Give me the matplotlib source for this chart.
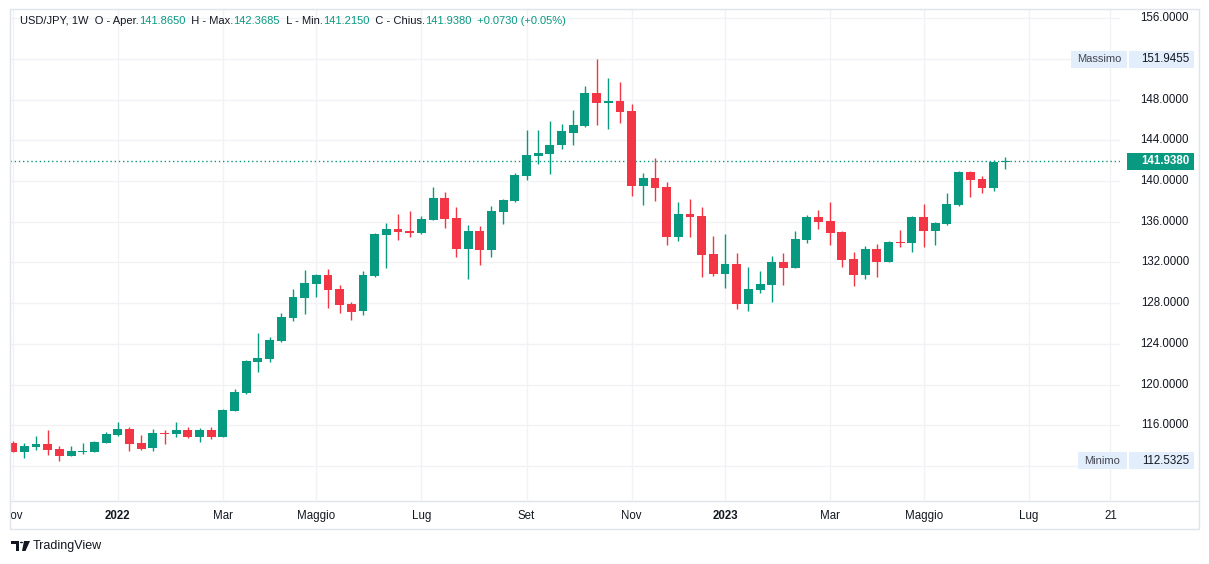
import matplotlib
matplotlib.use("Agg")
import matplotlib.pyplot as plt
from matplotlib.patches import Rectangle, Circle, Polygon
from matplotlib.lines import Line2D
from matplotlib.transforms import blended_transform_factory

# weekly USD/JPY candles, Nov 2021 -> Jun 2023
opens = [114.24, 113.42, 113.91, 114.18, 113.69, 113.00, 113.42, 113.42, 114.30, 115.05,
         115.64, 114.27, 113.72, 115.25, 115.15, 115.54, 114.86, 115.54, 114.86, 117.43,
         119.17, 122.24, 122.55, 124.31, 126.57, 128.54, 129.91, 130.76, 129.39, 127.91,
         127.26, 130.70, 134.73, 135.28, 135.08, 134.89, 136.20, 138.33, 136.36, 133.35,
         135.08, 133.25, 136.99, 138.06, 140.52, 142.48, 142.68, 143.52, 144.75, 145.43,
         148.66, 147.62, 147.88, 146.88, 139.55, 140.33, 139.45, 134.45, 136.76, 136.56,
         132.84, 130.89, 131.83, 127.94, 129.32, 129.81, 132.04, 131.49, 134.20, 136.46,
         136.07, 134.99, 132.33, 130.79, 133.31, 132.07, 134.03, 133.94, 136.46, 135.12,
         135.81, 137.67, 140.89, 140.20, 139.35, 141.865]
highs = [114.47, 114.27, 114.96, 115.54, 113.98, 113.98, 114.27, 114.47, 115.35, 116.32,
         115.83, 115.05, 115.64, 115.54, 116.33, 115.83, 115.74, 115.83, 117.60, 119.53,
         122.41, 125.09, 124.65, 127.04, 129.39, 131.25, 130.86, 131.35, 129.82, 128.14,
         131.15, 134.92, 135.84, 136.75, 137.08, 136.53, 139.41, 138.92, 137.45, 135.68,
         135.58, 137.55, 138.23, 140.78, 145.00, 145.00, 145.93, 145.60, 146.97, 149.36,
         151.9455, 150.13, 149.73, 147.58, 140.82, 142.29, 139.94, 137.95, 138.23, 137.45,
         134.60, 134.79, 132.93, 131.54, 131.15, 132.63, 132.93, 135.10, 136.66, 137.15,
         137.95, 135.10, 133.02, 133.60, 133.81, 134.10, 135.18, 136.56, 137.74, 135.97,
         138.82, 140.95, 140.98, 140.49, 142.05, 142.3685]
lows = [113.33, 112.74, 113.62, 113.10, 112.5325, 112.94, 113.13, 113.33, 114.30, 114.96,
        113.49, 113.59, 113.49, 114.18, 114.86, 114.76, 114.37, 114.69, 114.80, 117.40,
        119.07, 121.27, 122.24, 124.20, 126.27, 126.96, 128.64, 127.55, 127.07, 126.37,
        126.86, 130.54, 131.49, 134.23, 134.53, 134.82, 136.14, 135.42, 132.56, 130.40,
        131.78, 132.56, 135.81, 137.90, 140.13, 141.70, 140.67, 143.17, 143.57, 145.33,
        145.53, 145.14, 145.72, 138.57, 137.67, 138.07, 133.66, 134.15, 134.53, 130.60,
        130.70, 129.51, 127.47, 127.26, 129.03, 128.14, 129.81, 131.40, 133.94, 135.29,
        133.66, 131.58, 129.71, 130.40, 130.60, 132.00, 133.54, 133.06, 133.54, 133.75,
        135.71, 137.57, 138.46, 138.86, 139.05, 141.215]
closes = [113.42, 113.97, 114.18, 113.62, 113.00, 113.49, 113.49, 114.37, 115.15, 115.64,
          114.18, 113.69, 115.25, 115.15, 115.54, 114.86, 115.54, 114.86, 117.50, 119.27,
          122.31, 122.61, 124.38, 126.64, 128.61, 129.98, 130.76, 129.32, 127.85, 127.17,
          130.76, 134.80, 135.28, 135.02, 134.92, 136.27, 138.33, 136.30, 133.35, 135.08,
          133.25, 137.06, 138.15, 140.59, 142.55, 142.75, 143.54, 144.87, 145.50, 148.66,
          147.63, 147.88, 146.82, 139.55, 140.33, 139.35, 134.45, 136.76, 136.50, 132.77,
          130.89, 131.83, 127.94, 129.42, 129.88, 132.04, 131.49, 134.30, 136.46, 135.97,
          134.92, 132.27, 130.79, 133.31, 132.07, 134.00, 133.94, 136.46, 135.12, 135.88,
          137.74, 140.89, 140.13, 139.35, 141.86, 141.938]

tick_pos = [0, 9, 18, 26, 35, 44, 53, 61, 70, 78, 87, 94]
tick_labels = ["Nov", "2022", "Mar", "Maggio", "Lug", "Set", "Nov", "2023", "Mar", "Maggio", "Lug", "21"]
bold_labels = ["2022", "2023"]
grid_prices = [112, 116, 120, 124, 128, 132, 136, 140, 144, 148, 152, 156]
# 112 sits under the "Minimo" tag, so its label is not shown
price_labels = [116, 120, 124, 128, 132, 136, 140, 144, 148, 152, 156]

last_price = 141.938
max_price = 151.9455
min_price = 112.5325
header = [("USD/JPY, 1W  O - Aper.", "dark"), ("141.8650", "up"),
          ("  H - Max.", "dark"), ("142.3685", "up"),
          ("  L - Min.", "dark"), ("141.2150", "up"),
          ("  C - Chius.", "dark"), ("141.9380", "up"),
          ("  +0.0730 (+0.05%)", "up")]

UP = "#089981"
DOWN = "#F23645"
GRID = "#F0F2F6"
TEXT = "#131722"
FRAME = "#E0E3EB"
LABEL_BG = "#E3EEFC"

plt.rcParams['font.family'] = ['Liberation Sans', 'DejaVu Sans']

W, H = 1209, 564
fig = plt.figure(figsize=(W / 100, H / 100), dpi=100)
fig.patch.set_facecolor("white")


def fx(px):
    return px / W


def fy(py):
    return 1 - py / H


# main price pane
ax = fig.add_axes([fx(10), fy(500), fx(1120) - fx(10), fy(9) - fy(500)])
ax.set_xlim(-0.23, 94.82)
ax.set_ylim(108.66, 156.89)
ax.axis("off")

for p in grid_prices:
    ax.axhline(p, color=GRID, lw=1, zorder=0)
for t in tick_pos:
    ax.axvline(t, color=GRID, lw=1, zorder=0)

for i in range(len(opens)):
    o, h, l, c = opens[i], highs[i], lows[i], closes[i]
    col = UP if c >= o else DOWN
    ax.vlines(i, l, h, color=col, lw=1.0, zorder=2)
    ax.bar(i, max(abs(c - o), 0.09), bottom=min(o, c), width=0.76, color=col,
           lw=0, zorder=3)

ax.axhline(last_price, color=UP, lw=1, ls=(0, (1, 2)), zorder=1)

# right price scale (x in figure px, y in data)
trans = blended_transform_factory(fig.transFigure, ax.transData)
px_per_unit = 491 / (156.89 - 108.66)
box_h = 17 / px_per_unit

for p in price_labels:
    ax.text(fx(1189), p, f"{p:.4f}", transform=trans, ha="right", va="center",
            fontsize=8.3, color=TEXT, clip_on=False)

# max / min markers
for name, val in [("Massimo", max_price), ("Minimo", min_price)]:
    left = 1071 if name == "Massimo" else 1078
    ax.add_patch(Rectangle((fx(left), val - box_h / 2), fx(1127) - fx(left), box_h,
                           transform=trans, color=LABEL_BG, lw=0, clip_on=False, zorder=5))
    ax.add_patch(Rectangle((fx(1129), val - box_h / 2), fx(1194) - fx(1129), box_h,
                           transform=trans, color=LABEL_BG, lw=0, clip_on=False, zorder=5))
    ax.text(fx(1099 if name == "Massimo" else 1102.5), val, name, transform=trans,
            ha="center", va="center", fontsize=8, color="#434651", clip_on=False, zorder=6)
    ax.text(fx(1189), val, f"{val:.4f}", transform=trans, ha="right", va="center",
            fontsize=8.3, color=TEXT, clip_on=False, zorder=6)

# last price tag
ax.add_patch(Rectangle((fx(1127), last_price - box_h / 2), fx(1194) - fx(1127), box_h,
                       transform=trans, color=UP, lw=0, clip_on=False, zorder=5))
ax.text(fx(1189), last_price, f"{last_price:.4f}", transform=trans, ha="right",
        va="center", fontsize=8.3, color="white", fontweight="bold", clip_on=False, zorder=6)

# time axis
tax = fig.add_axes([fx(10), fy(529), fx(1199) - fx(10), fy(501) - fy(529)])
tax.set_xlim(-0.23, (1199 - 12.7) / 11.678)
tax.set_ylim(0, 1)
tax.axis("off")
for t, lab in zip(tick_pos, tick_labels):
    tax.text(t, 0.45, lab, ha="center", va="center", fontsize=8.3, color=TEXT,
             fontweight="bold" if lab in bold_labels else "normal", clip_on=True)

# frame
fig.add_artist(Rectangle((fx(10), fy(529)), fx(1199) - fx(10), fy(9) - fy(529),
                         transform=fig.transFigure, fill=False, ec=FRAME, lw=1))
fig.add_artist(Line2D([fx(10), fx(1199)], [fy(501), fy(501)], transform=fig.transFigure,
                      color=FRAME, lw=1))

# header
renderer = fig.canvas.get_renderer()
x = fx(20)
for s, kind in header:
    t = fig.text(x, fy(21), s, fontsize=8, va="center", ha="left",
                 color=UP if kind == "up" else TEXT)
    x += t.get_window_extent(renderer).width / W

# TradingView logo
fig.add_artist(Polygon([(fx(11), fy(541)), (fx(19), fy(541)), (fx(19), fy(551)),
                        (fx(16), fy(551)), (fx(16), fy(544)), (fx(11), fy(544))],
                       closed=True, transform=fig.transFigure, color=TEXT, lw=0))
fig.add_artist(Circle((fx(21.5), fy(542.5)), 1.6 / W, transform=fig.transFigure,
                      color=TEXT, lw=0))
fig.add_artist(Polygon([(fx(24), fy(541)), (fx(30), fy(541)), (fx(25.5), fy(551)),
                        (fx(22), fy(551))], closed=True, transform=fig.transFigure,
                       color=TEXT, lw=0))
fig.text(fx(33), fy(546.5), "TradingView", fontsize=9, va="center", ha="left", color=TEXT)

fig.savefig("out.png", dpi=100)
